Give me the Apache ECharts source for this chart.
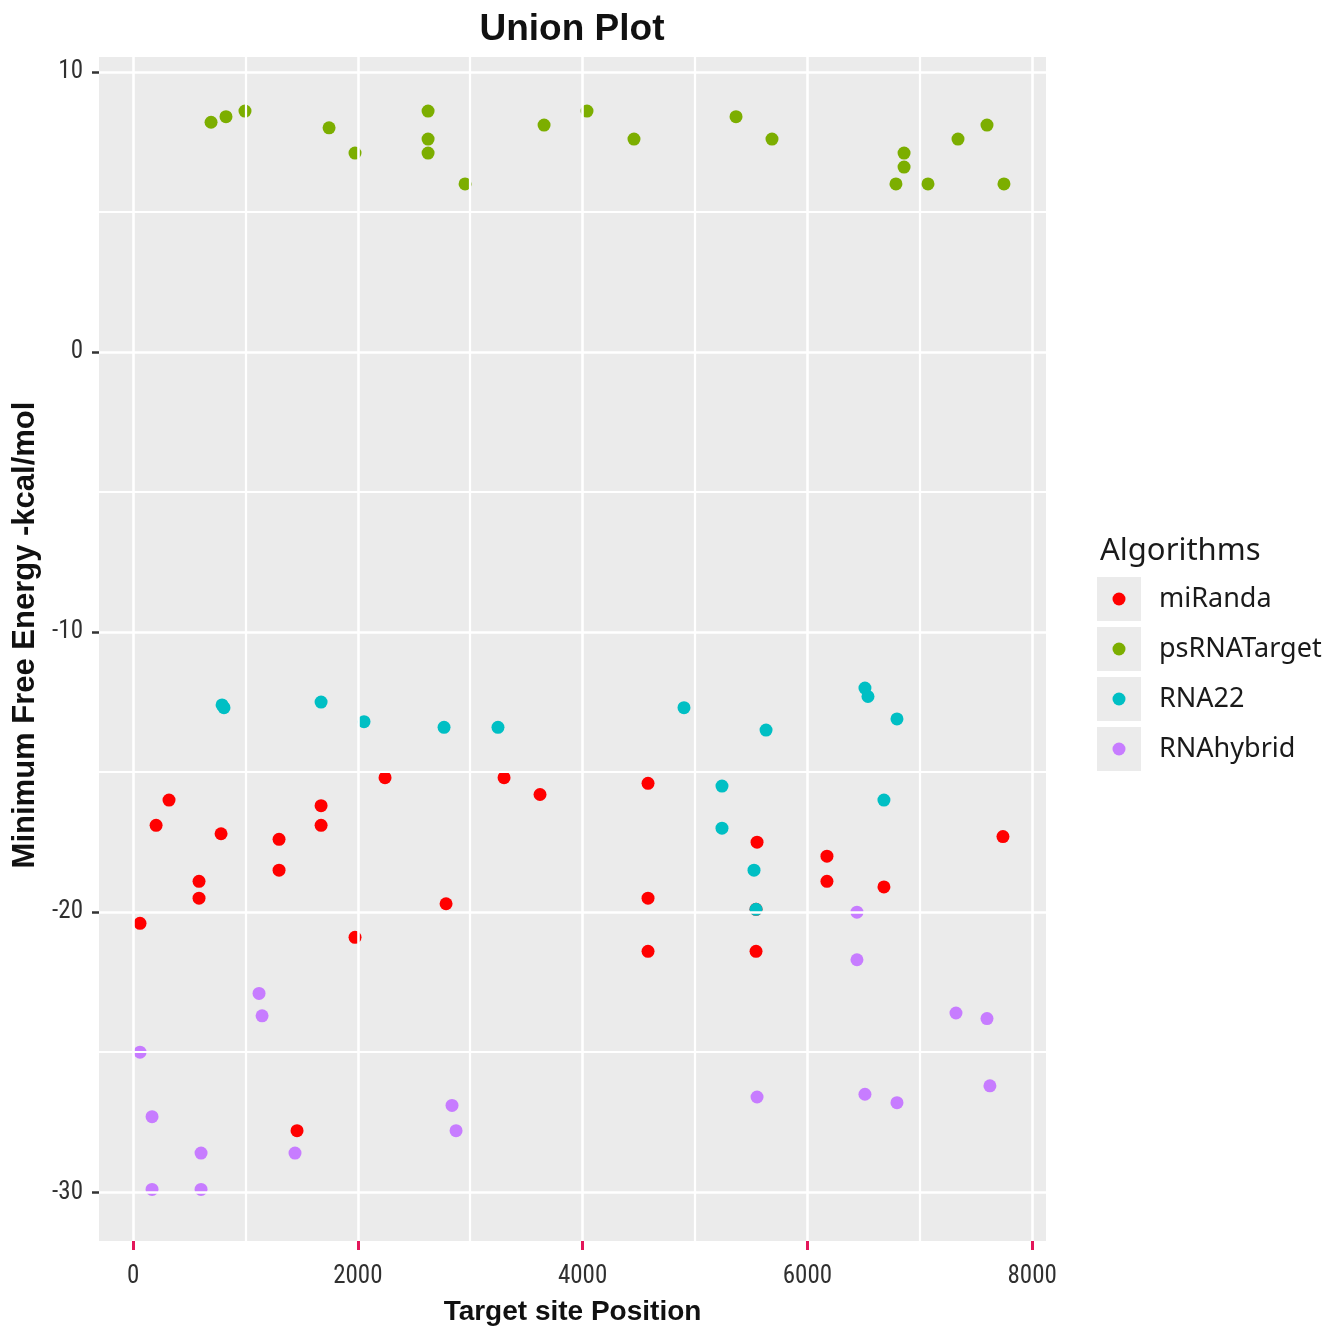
<!DOCTYPE html>
<html>
<head>
<meta charset="utf-8">
<script src="https://cdn.jsdelivr.net/npm/echarts@6/dist/echarts.min.js"></script>
<style>html,body{margin:0;padding:0;background:#fff;}#chart{width:1341px;height:1331px;}</style>
</head>
<body>
<div id="chart"></div>
<script>
// ---- data ----
const seriesNames = ['miRanda', 'psRNATarget', 'RNA22', 'RNAhybrid'];
const seriesColors = ['#ff0000', '#7CAE00', '#00BFC4', '#C77CFF'];

const miRanda = [
  [62, -20.4], [205, -16.9], [320, -16.0], [587, -18.9], [587, -19.5], [783, -17.2],
  [1299, -17.4], [1299, -18.5], [1459, -27.8], [1673, -16.2], [1673, -16.9], [1975, -20.9],
  [2242, -15.2], [2785, -19.7], [3301, -15.2], [3621, -15.8], [4582, -15.4], [4582, -19.5],
  [4582, -21.4], [5552, -17.5], [5543, -19.9], [5543, -21.4], [6174, -18.0], [6174, -18.9],
  [6681, -19.1], [7740, -17.3]
];
const psRNATarget = [
  [694, 8.2], [827, 8.4], [996, 8.6], [1744, 8.0], [1975, 7.1], [2625, 8.6], [2625, 7.6],
  [2625, 7.1], [2954, 6.0], [3657, 8.1], [4039, 8.6], [4457, 7.6], [5365, 8.4], [5685, 7.6],
  [6788, 6.0], [6860, 7.1], [6860, 6.6], [7073, 6.0], [7340, 7.6], [7598, 8.1], [7749, 6.0]
];
const RNA22 = [
  [792, -12.6], [809, -12.7], [1673, -12.5], [2055, -13.2], [2767, -13.4], [3247, -13.4],
  [4902, -12.7], [5240, -15.5], [5240, -17.0], [5632, -13.5], [5525, -18.5], [5543, -19.9],
  [6512, -12.0], [6539, -12.3], [6797, -13.1], [6681, -16.0]
];
const RNAhybrid = [
  [62, -25.0], [169, -27.3], [169, -29.9], [605, -28.6], [605, -29.9], [1121, -22.9],
  [1148, -23.7], [1441, -28.6], [2838, -26.9], [2874, -27.8], [5552, -26.6], [6441, -20.0],
  [6441, -21.7], [6512, -26.5], [6797, -26.8], [7322, -23.6], [7598, -23.8], [7624, -26.2]
];
const seriesData = [miRanda, psRNATarget, RNA22, RNAhybrid];

const xTicks = [0, 2000, 4000, 6000, 8000];
const xMinor = [1000, 3000, 5000, 7000];
const yTicks = [-30, -20, -10, 0, 10];
const yMinor = [-25, -15, -5, 5];

// ---- chart ----
const chart = echarts.init(document.getElementById('chart'), null, {renderer: 'canvas'});
const tickFont = "'Liberation Sans Narrow', 'Roboto Condensed', 'DejaVu Sans Condensed', 'Noto Sans', sans-serif";

function legendIcon(color) {
  const svg = '<svg xmlns="http://www.w3.org/2000/svg" width="57" height="44" viewBox="0 0 57 44">' +
    '<rect x="0" y="0" width="44" height="44" fill="#ebebeb"/>' +
    '<circle cx="22" cy="22" r="6.5" fill="' + color + '"/></svg>';
  return 'image://data:image/svg+xml;utf8,' + encodeURIComponent(svg);
}

const gridLines = [];
xTicks.forEach(v => gridLines.push({xAxis: v, lineStyle: {width: 2.6}}));
xMinor.forEach(v => gridLines.push({xAxis: v, lineStyle: {width: 2.2}}));
yTicks.forEach(v => gridLines.push({yAxis: v, lineStyle: {width: 2.6}}));
yMinor.forEach(v => gridLines.push({yAxis: v, lineStyle: {width: 2.2}}));

const series = [{
  type: 'scatter', name: '_grid', data: [], z: 1, silent: true,
  markLine: {
    silent: true, symbol: ['none', 'none'], animation: false,
    label: {show: false},
    lineStyle: {color: '#ffffff', type: 'solid'},
    emphasis: {disabled: true},
    data: gridLines
  }
}];
seriesNames.forEach((n, i) => series.push({
  type: 'scatter', name: n, data: seriesData[i], symbol: 'circle', symbolSize: 13,
  itemStyle: {color: seriesColors[i], opacity: 1}, z: 3
}));

const plain = v => String(v);

chart.setOption({
  animation: false,
  backgroundColor: '#ffffff',
  title: [{
    text: 'Union Plot', left: 567, top: 6, textAlign: 'center',
    textStyle: {fontFamily: "'Liberation Sans', Arial, sans-serif", fontWeight: 'bold', fontSize: 37, color: '#111'}
  }, {
    text: 'Algorithms', left: 1095, top: 531,
    textStyle: {fontFamily: "'Noto Sans', sans-serif", fontWeight: 'normal', fontSize: 31, color: '#1a1a1a'}
  }],
  legend: {
    orient: 'vertical', left: 1097, top: 577, itemWidth: 57, itemHeight: 44, itemGap: 6,
    padding: 0, selectedMode: false,
    textStyle: {fontFamily: "'Noto Sans', sans-serif", fontSize: 27, color: '#1a1a1a'},
    data: seriesNames.map((n, i) => ({name: n, icon: legendIcon(seriesColors[i])}))
  },
  grid: {left: 99, right: 295, top: 57, bottom: 74, show: true, backgroundColor: '#ebebeb', borderWidth: 0},
  xAxis: {
    type: 'value', min: -303, max: 8123,
    splitLine: {show: false}, axisLine: {show: false, onZero: false},
    axisTick: {show: true, customValues: xTicks, length: 9, lineStyle: {color: '#e3175a', width: 3}},
    axisLabel: {customValues: xTicks, formatter: plain, fontSize: 25, margin: 23, color: '#303030', fontFamily: tickFont},
    name: 'Target site Position', nameLocation: 'middle', nameGap: 57,
    nameTextStyle: {fontFamily: "'Liberation Sans', Arial, sans-serif", fontWeight: 'bold', fontSize: 28, color: '#111'}
  },
  yAxis: {
    type: 'value', min: -31.74, max: 10.53,
    splitLine: {show: false}, axisLine: {show: false, onZero: false},
    axisTick: {show: true, customValues: yTicks, length: 7, lineStyle: {color: '#333', width: 2.5}},
    axisLabel: {customValues: yTicks, formatter: plain, fontSize: 25, margin: 16, color: '#303030', fontFamily: tickFont},
    name: 'Minimum Free Energy -kcal/mol', nameLocation: 'middle', nameGap: 56,
    nameTextStyle: {fontFamily: "'Liberation Sans', Arial, sans-serif", fontWeight: 'bold', fontSize: 31, color: '#111', padding: [0, 0, 0, 28]}
  },
  series: series
});
</script>
</body>
</html>
